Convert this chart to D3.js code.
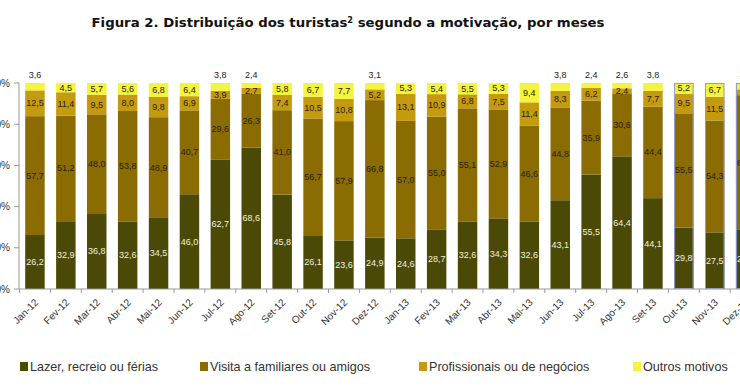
<!DOCTYPE html>
<html><head><meta charset="utf-8">
<script src="https://cdnjs.cloudflare.com/ajax/libs/d3/7.8.5/d3.min.js"></script>
<style>body{margin:0;background:#fff}svg{display:block}</style>
</head><body>
<svg id="c" width="740" height="389"></svg>
<script>
const months = ["Jan-12","Fev-12","Mar-12","Abr-12","Mai-12","Jun-12","Jul-12","Ago-12","Set-12","Out-12","Nov-12","Dez-12",
                "Jan-13","Fev-13","Mar-13","Abr-13","Mai-13","Jun-13","Jul-13","Ago-13","Set-13","Out-13","Nov-13","Dez-13"];
const seriesNames = ["Lazer, recreio ou férias","Visita a familiares ou amigos","Profissionais ou de negócios","Outros motivos"];
const lazer  = [26.2,32.9,36.8,32.6,34.5,46.0,62.7,68.6,45.8,26.1,23.6,24.9,24.6,28.7,32.6,34.3,32.6,43.1,55.5,64.4,44.1,29.8,27.5,28.7];
const visita = [57.7,51.2,48.0,53.8,48.9,40.7,29.6,26.3,41.0,56.7,57.9,66.8,57.0,55.0,55.1,52.9,46.6,44.8,35.9,30.6,44.4,55.5,54.3,65.4];
const prof   = [12.5,11.4,9.5,8.0,9.8,6.9,3.9,2.7,7.4,10.5,10.8,5.2,13.1,10.9,6.8,7.5,11.4,8.3,6.2,2.4,7.7,9.5,11.5,2.8];
const outros = [3.6,4.5,5.7,5.6,6.8,6.4,3.8,2.4,5.8,6.7,7.7,3.1,5.3,5.4,5.5,5.3,9.4,3.8,2.4,2.6,3.8,5.2,6.7,3.1];
const provisional = ["Out-13","Nov-13","Dez-13"];
const yTicks = [0,20,40,60,80,100];

const colors = ["#4b4906","#8b6c03","#c49b0e","#f4f43e"];
const labelColors = ["#f2f0dc","#2a2000","#2a2000","#2a2000"];

const svg = d3.select("#c");
const x0 = 19.5, step = 30.9;
const x = d3.scaleBand().domain(months).range([x0, x0 + step*months.length]).paddingInner(0.37).paddingOuter(0.185);
const y = d3.scaleLinear().domain([0,100]).range([289,83]);

const rows = months.map((m,i)=>({month:m, s0:lazer[i], s1:visita[i], s2:prof[i], s3:outros[i]}));
const stack = d3.stack().keys(["s0","s1","s2","s3"])(rows);

// title
svg.append("text").attr("x",348).attr("y",27).attr("text-anchor","middle")
  .attr("font-family","DejaVu Sans").attr("font-weight","bold").attr("font-size",13).attr("fill","#111")
  .attr("textLength",513).attr("lengthAdjust","spacingAndGlyphs")
  .html('Figura 2. Distribuição dos turistas<tspan baseline-shift="super" font-size="8">2</tspan> segundo a motivação, por meses');

// bars
const g = svg.append("g");
stack.forEach((layer,k)=>{
  g.selectAll(null).data(layer).enter().append("rect")
    .attr("x",d=>x(d.data.month)).attr("width",x.bandwidth())
    .attr("y",d=>y(d[1])).attr("height",d=>y(d[0])-y(d[1]))
    .attr("fill",colors[k]);
});
// provisional outline
g.selectAll(null).data(rows.filter(r=>provisional.includes(r.month))).enter().append("rect")
  .attr("x",d=>x(d.month)+0.5).attr("width",x.bandwidth()-1)
  .attr("y",y(100)+0.5).attr("height",y(0)-y(100)-1)
  .attr("fill","none").attr("stroke","#8e9ad8").attr("stroke-width",1);

// labels
const fmt = v => v.toFixed(1).replace(".",",");
stack.forEach((layer,k)=>{
  g.selectAll(null).data(layer).enter().append("text")
    .attr("x",d=>x(d.data.month)+x.bandwidth()/2)
    .attr("y",d=>{
      const v=d[1]-d[0];
      if(k===3 && v<=3.8) return y(100)-5;
      return (y(d[0])+y(d[1]))/2+3;
    })
    .attr("text-anchor","middle").attr("font-family","Liberation Sans Narrow, Liberation Sans").attr("font-size",9)
    .attr("fill",d=>{const v=d[1]-d[0]; return (k===3 && v<=3.8)?"#222":labelColors[k];})
    .text(d=>fmt(d[1]-d[0]));
});

// axes
const ax = svg.append("g").attr("stroke","#999").attr("fill","none");
ax.append("line").attr("x1",19).attr("x2",19).attr("y1",y(100)).attr("y2",y(0));
ax.append("line").attr("x1",19).attr("x2",761).attr("y1",y(0)).attr("y2",y(0));
ax.selectAll(null).data(yTicks).enter().append("line")
  .attr("x1",14).attr("x2",19).attr("y1",d=>y(d)).attr("y2",d=>y(d));
ax.selectAll(null).data(d3.range(months.length+1)).enter().append("line")
  .attr("x1",d=>x0+d*step).attr("x2",d=>x0+d*step).attr("y1",y(0)).attr("y2",y(0)+4);

svg.selectAll(null).data(yTicks).enter().append("text")
  .attr("x",10).attr("y",d=>y(d)+3.5).attr("text-anchor","end")
  .attr("font-family","Liberation Sans").attr("font-size",10).attr("fill","#333")
  .text(d=>d+"%");

svg.selectAll(null).data(months).enter().append("text")
  .attr("transform",d=>`translate(${x(d)+x.bandwidth()/2+4},${y(0)+14}) rotate(-45)`)
  .attr("text-anchor","end")
  .attr("font-family","Liberation Sans").attr("font-size",10).attr("fill","#333")
  .text(d=>d);

// legend
const legX = [20,200,419,633];
const leg = svg.selectAll(null).data(seriesNames).enter().append("g")
  .attr("transform",(d,i)=>`translate(${legX[i]},362)`);
leg.append("rect").attr("width",8).attr("height",9).attr("fill",(d,i)=>colors[i]);
leg.append("text").attr("x",10).attr("y",9)
  .attr("font-family","Liberation Sans").attr("font-size",12.6).attr("fill","#333").text(d=>d);
</script>
</body></html>
